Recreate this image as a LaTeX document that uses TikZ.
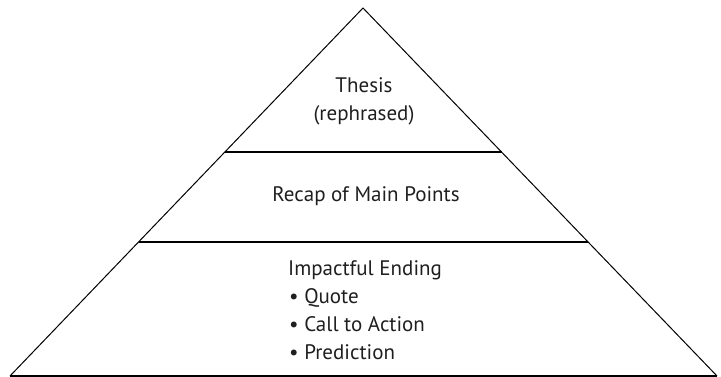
\documentclass[tikz,border=0pt]{standalone}
\usepackage{fontspec}
\setmainfont{PT Sans}
\usetikzlibrary{calc}
\begin{document}
\begin{tikzpicture}[x=1pt,y=-1pt,
  edge/.style={line width=1pt,black},
  divider/.style={line width=1.3pt,black},
  lbl/.style={font=\fontsize{21}{27.5}\selectfont,inner sep=0pt,text=black!88,anchor=base},
  item/.style={lbl,anchor=base west}]
\useasboundingbox (0,0) rectangle (721,377);
\coordinate (apex) at (363,8);
\coordinate (bl) at (10,376);
\coordinate (br) at (717,376);
\draw[edge,line join=miter] (bl) -- (apex) -- (br);
\draw[line width=1.8pt] (bl) -- (br);
\coordinate (l1) at ($(apex)!0.3913!(bl)$);
\coordinate (r1) at ($(apex)!0.3913!(br)$);
\coordinate (l2) at ($(apex)!0.6359!(bl)$);
\coordinate (r2) at ($(apex)!0.6359!(br)$);
\draw[divider] (l1) -- (r1);
\draw[divider] (l2) -- (r2);
\node[lbl] (thesis) at (364,93) {Thesis};
\node[lbl] (rephr) at (364,120.5) {(rephrased)};
\node[lbl] (recap) at (366,202) {Recap of Main Points};
\node[item] (ending) at (288,275) {Impactful Ending};
\node[item] (quote) at (289,303) {\textbullet\ Quote};
\node[item] (call) at (289,331) {\textbullet\ Call to Action};
\node[item] (pred) at (289,359) {\textbullet\ Prediction};
\end{tikzpicture}
\end{document}
